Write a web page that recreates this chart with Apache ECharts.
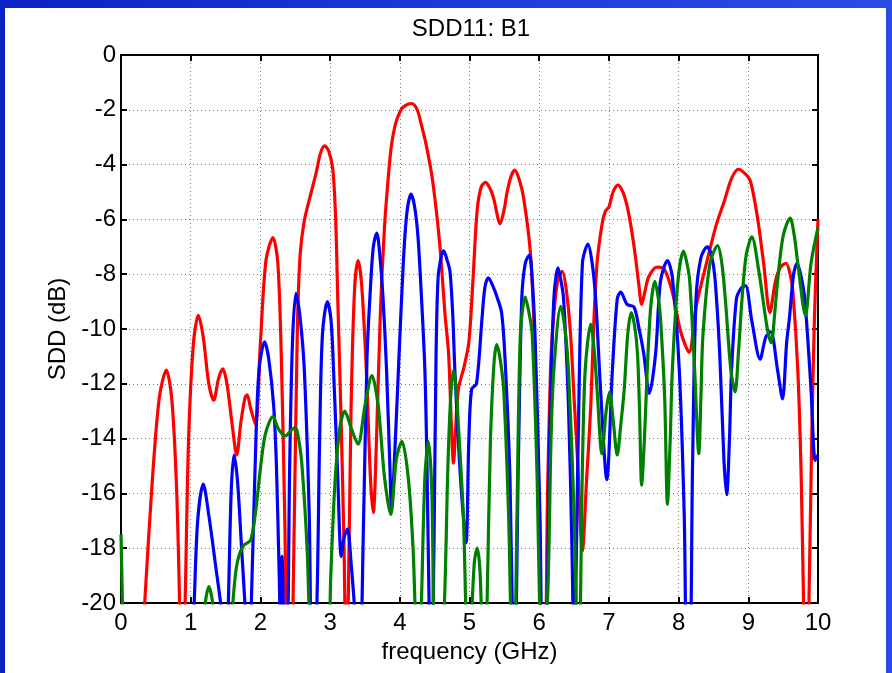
<!DOCTYPE html>
<html>
<head>
<meta charset="utf-8">
<script src="https://cdn.jsdelivr.net/npm/echarts@6/dist/echarts.min.js"></script>
<style>
  html, body { margin: 0; padding: 0; }
  body { width: 892px; height: 673px; position: relative; overflow: hidden;
    background: linear-gradient(90deg, #0c22c4 0%, #1c3ad8 50%, #2a4ce4 100%); }
  #frame { position: absolute; left: 5px; top: 8px; width: 881px; height: 665px; background: #fff; }
  #chart { position: absolute; left: 0; top: 0; width: 892px; height: 673px; }
</style>
</head>
<body>
<div id="frame"></div>
<div id="chart"></div>
<script>
// frequency (GHz) / SDD (dB); values under -20 are clipped dips
const redFreq = [0.25, 0.34, 0.45, 0.55, 0.65, 0.73, 0.8, 0.85, 0.88, 0.92, 0.97, 1.04, 1.11, 1.18, 1.26, 1.33, 1.4, 1.46, 1.52, 1.6, 1.66, 1.72, 1.78, 1.81, 1.86, 1.93, 2.0, 2.08, 2.18, 2.25, 2.3, 2.35, 2.38, 2.43, 2.48, 2.53, 2.57, 2.63, 2.73, 2.8, 2.86, 2.92, 2.98, 3.04, 3.08, 3.11, 3.16, 3.2, 3.23, 3.26, 3.3, 3.35, 3.4, 3.45, 3.52, 3.58, 3.62, 3.66, 3.72, 3.78, 3.84, 3.88, 3.93, 3.98, 4.05, 4.17, 4.25, 4.31, 4.38, 4.46, 4.52, 4.58, 4.65, 4.7, 4.74, 4.77, 4.8, 4.84, 4.92, 4.99, 5.05, 5.11, 5.17, 5.23, 5.3, 5.35, 5.44, 5.5, 5.54, 5.6, 5.65, 5.72, 5.78, 5.87, 5.92, 5.96, 6.0, 6.04, 6.08, 6.12, 6.17, 6.23, 6.28, 6.33, 6.39, 6.45, 6.5, 6.55, 6.62, 6.68, 6.74, 6.78, 6.83, 6.9, 6.95, 7.0, 7.06, 7.13, 7.2, 7.26, 7.32, 7.38, 7.43, 7.47, 7.52, 7.57, 7.69, 7.79, 7.91, 8.03, 8.15, 8.25, 8.4, 8.54, 8.66, 8.76, 8.86, 8.96, 9.03, 9.13, 9.22, 9.31, 9.39, 9.46, 9.54, 9.6, 9.64, 9.71, 9.76, 9.8, 9.83, 9.87, 9.91, 9.95, 10.0]
const redSdd = [-24, -20, -15.5, -12.5, -11.5, -12.6, -16, -21, -24, -20, -14, -10.5, -9.5, -10.3, -12, -12.6, -11.8, -11.45, -12.0, -13.6, -14.6, -13.4, -12.5, -12.4, -12.9, -13.5, -10.5, -7.5, -6.66, -7.6, -11, -17, -22, -24, -18, -10, -7.3, -6.05, -5.0, -4.3, -3.6, -3.32, -3.5, -4.2, -6, -8.9, -13.5, -18, -22, -20, -13, -8.6, -7.5, -8.3, -11.5, -15.5, -16.7, -14.5, -9.5, -6.3, -4.3, -3.3, -2.6, -2.2, -1.9, -1.77, -2.0, -2.55, -3.3, -4.4, -5.6, -7.1, -9.5, -10.9, -13.5, -14.9, -13.7, -12.2, -11.4, -10.5, -8.2, -5.66, -4.8, -4.65, -4.9, -5.27, -6.16, -5.6, -5.0, -4.4, -4.2, -4.6, -5.27, -7.1, -9.5, -12.8, -17, -22, -22, -16, -11, -8.9, -8.1, -7.9, -8.6, -10.2, -12.5, -14.75, -18.1, -15.5, -12.8, -10, -7.6, -6.2, -5.7, -5.55, -5.0, -4.75, -5.0, -5.5, -6.3, -7.35, -8.4, -9.1, -8.6, -8.1, -7.74, -7.8, -8.65, -10.1, -10.85, -9.2, -7.6, -6.2, -5.3, -4.5, -4.17, -4.35, -4.6, -5.9, -7.6, -9.4, -8.25, -7.75, -7.6, -8.0, -8.65, -11.5, -15.5, -21, -24, -20, -14, -9.5, -6.0]

const blueFreq = [1.0, 1.05, 1.1, 1.18, 1.26, 1.35, 1.45, 1.5, 1.54, 1.58, 1.62, 1.67, 1.73, 1.8, 1.83, 1.87, 1.93, 1.98, 2.06, 2.12, 2.19, 2.23, 2.27, 2.29, 2.31, 2.34, 2.38, 2.42, 2.46, 2.51, 2.57, 2.63, 2.7, 2.74, 2.8, 2.85, 2.89, 2.96, 3.01, 3.04, 3.11, 3.16, 3.2, 3.25, 3.3, 3.36, 3.42, 3.48, 3.53, 3.57, 3.62, 3.67, 3.71, 3.76, 3.81, 3.86, 3.88, 3.91, 3.98, 4.05, 4.1, 4.16, 4.21, 4.26, 4.31, 4.36, 4.39, 4.42, 4.45, 4.49, 4.52, 4.55, 4.6, 4.63, 4.68, 4.72, 4.76, 4.79, 4.87, 4.95, 4.99, 5.03, 5.1, 5.18, 5.22, 5.27, 5.33, 5.39, 5.46, 5.51, 5.58, 5.62, 5.65, 5.7, 5.75, 5.8, 5.86, 5.9, 5.94, 6.01, 6.05, 6.09, 6.15, 6.21, 6.27, 6.31, 6.35, 6.42, 6.47, 6.5, 6.56, 6.62, 6.7, 6.76, 6.81, 6.88, 6.97, 7.05, 7.12, 7.17, 7.26, 7.36, 7.43, 7.5, 7.58, 7.67, 7.74, 7.84, 7.91, 8.01, 8.08, 8.12, 8.16, 8.2, 8.25, 8.32, 8.41, 8.47, 8.52, 8.59, 8.65, 8.69, 8.73, 8.76, 8.83, 8.9, 8.96, 9.05, 9.17, 9.25, 9.32, 9.42, 9.49, 9.55, 9.59, 9.65, 9.7, 9.75, 9.81, 9.9, 9.96, 10.0]
const blueSdd = [-23, -20, -17, -15.66, -16.8, -18.5, -20.5, -23, -20, -16, -14.6, -15.5, -18, -21, -23, -20, -14.5, -11.5, -10.47, -11.1, -12.8, -15, -19, -21, -18.3, -21, -22, -15, -10.5, -8.7, -9.6, -11.5, -16.7, -22, -21, -14, -10.2, -9.0, -9.6, -10.9, -15.4, -18.3, -17.6, -17.3, -18.5, -20.5, -23, -17, -11, -8.9, -7.0, -6.5, -7.2, -8.9, -11.5, -15.2, -16.5, -15.5, -11.5, -7.6, -5.8, -5.08, -5.5, -6.6, -8.8, -11.5, -15, -20, -24, -18, -11, -8.1, -7.3, -7.15, -7.5, -7.9, -9.5, -11.5, -15.4, -17.8, -14.1, -12.2, -12.0, -9.6, -8.5, -8.13, -8.4, -8.8, -9.4, -11.1, -15.4, -21, -22, -15, -8.9, -7.6, -7.3, -8.2, -10.2, -16.7, -22, -22, -14, -8.9, -7.77, -8.2, -8.9, -12.8, -18, -22, -14, -7.6, -6.9, -7.6, -8.9, -12.2, -15.5, -11.5, -8.9, -8.65, -9.1, -9.2, -9.95, -10.9, -12.35, -10.9, -8.26, -7.5, -8.1, -11.5, -16.7, -22, -22, -15, -8.9, -7.4, -7.0, -7.3, -8.1, -10.9, -14.75, -16.05, -14, -11.5, -8.9, -8.5, -8.42, -9.7, -11.1, -10.3, -10.1, -11.5, -12.55, -10.5, -9.6, -8.0, -7.6, -8.0, -8.9, -12.2, -14.8, -14.6]

const greenFreq = [0.0, 0.04, 0.1, 0.6, 1.15, 1.2, 1.26, 1.32, 1.38, 1.5, 1.59, 1.64, 1.69, 1.76, 1.86, 1.93, 2.0, 2.07, 2.18, 2.26, 2.36, 2.44, 2.5, 2.56, 2.6, 2.67, 2.71, 2.8, 2.96, 3.01, 3.07, 3.14, 3.21, 3.3, 3.4, 3.5, 3.6, 3.69, 3.78, 3.87, 3.95, 4.03, 4.12, 4.19, 4.23, 4.27, 4.31, 4.36, 4.41, 4.46, 4.49, 4.55, 4.64, 4.69, 4.73, 4.77, 4.81, 4.84, 4.91, 4.95, 4.98, 5.03, 5.07, 5.11, 5.15, 5.18, 5.22, 5.26, 5.3, 5.35, 5.39, 5.44, 5.49, 5.56, 5.6, 5.64, 5.68, 5.73, 5.8, 5.86, 5.9, 5.97, 6.01, 6.06, 6.13, 6.17, 6.21, 6.31, 6.37, 6.42, 6.5, 6.54, 6.57, 6.62, 6.66, 6.74, 6.79, 6.83, 6.9, 6.96, 7.01, 7.06, 7.12, 7.17, 7.22, 7.27, 7.32, 7.37, 7.41, 7.44, 7.47, 7.51, 7.55, 7.6, 7.66, 7.71, 7.74, 7.8, 7.84, 7.88, 7.91, 7.99, 8.07, 8.12, 8.16, 8.23, 8.29, 8.32, 8.35, 8.45, 8.56, 8.62, 8.67, 8.75, 8.81, 8.86, 8.91, 8.97, 9.05, 9.15, 9.27, 9.33, 9.38, 9.42, 9.5, 9.6, 9.66, 9.71, 9.82, 9.9, 10.0]
const greenSdd = [-17.5, -22, -26, -26, -22, -20.2, -19.4, -20.1, -22, -24, -20.5, -19, -18.3, -17.9, -17.7, -16.7, -15.1, -13.85, -13.2, -13.65, -13.9, -13.7, -13.6, -14.2, -15.1, -18, -21, -25, -23, -19, -15.6, -13.6, -13.0, -13.6, -14.2, -12.8, -11.7, -12.8, -15.4, -16.77, -14.75, -14.1, -15.4, -18, -21, -23, -20, -15.4, -14.1, -16, -21, -24, -20, -15, -12.5, -11.5, -12.2, -13.5, -16.7, -20.5, -23, -20.5, -18.5, -18.0, -18.8, -21, -23, -19, -14.1, -11.3, -10.57, -11.1, -12.2, -16.7, -21, -22, -17, -10.2, -8.84, -9.5, -10.2, -15.4, -20.5, -23, -19, -14, -11.5, -9.17, -10, -11.5, -16.7, -21, -22, -15, -11.5, -9.82, -10.8, -12.2, -14.55, -13, -12.3, -13.3, -14.6, -13.5, -12.2, -10.2, -9.4, -9.9, -10.9, -13, -15.7, -14, -11.5, -9.2, -8.26, -8.9, -9.6, -12.5, -16.4, -14, -11.5, -8.26, -7.16, -7.6, -8.26, -11.5, -14.55, -12.5, -10.2, -7.6, -6.96, -7.6, -8.9, -11.5, -12.3, -10.8, -8.9, -7.3, -6.64, -7.87, -9.95, -10.5, -9.4, -8.26, -6.6, -5.95, -6.6, -7.6, -9.5, -7.6, -6.3]

const pair = (xs, ys) => xs.map((x, i) => [x, ys[i]])

const font = "'Liberation Sans', Arial, sans-serif"

const chart = echarts.init(document.getElementById('chart'), null, { renderer: 'canvas' })

const axisCommon = {
  type: 'value',
  axisLine: { show: true, onZero: false, lineStyle: { color: '#000', width: 2 } },
  axisTick: { show: true, inside: true, length: 6, lineStyle: { color: '#000', width: 2 } },
  splitLine: { show: false },
  axisLabel: { show: false }
}

const option = {
  animation: false,
  title: {
    text: 'SDD11: B1',
    left: 466,
    top: 12,
    textAlign: 'center',
    textStyle: { fontFamily: font, fontWeight: 'normal', fontSize: 24, color: '#000' }
  },
  grid: { left: 121, top: 55, right: 74, bottom: 70, containLabel: false },
  xAxis: [
    Object.assign({}, axisCommon, {
      position: 'bottom', min: 0, max: 10, interval: 1,
      name: 'frequency (GHz)', nameLocation: 'middle', nameGap: 36,
      nameTextStyle: { fontFamily: font, fontSize: 24, color: '#000' },
      axisLabel: { show: true, margin: 8, fontFamily: font, fontSize: 24, color: '#000' },
      splitLine: { show: true, lineStyle: { color: '#7a7a7a', type: [1, 3], width: 1 } }
    }),
    Object.assign({}, axisCommon, { position: 'top', min: 0, max: 10, interval: 1 })
  ],
  yAxis: [
    Object.assign({}, axisCommon, {
      position: 'left', min: -20, max: 0, interval: 2,
      name: 'SDD (dB)', nameLocation: 'middle', nameGap: 48, nameRotate: 90,
      nameTextStyle: { fontFamily: font, fontSize: 24, color: '#000' },
      axisLabel: { show: true, margin: 5, fontFamily: font, fontSize: 24, color: '#000' },
      splitLine: { show: true, lineStyle: { color: '#7a7a7a', type: [1, 3], width: 1 } }
    }),
    Object.assign({}, axisCommon, { position: 'right', min: -20, max: 0, interval: 2 })
  ],
  series: [
    { name: 'red', type: 'line', data: pair(redFreq, redSdd) },
    { name: 'blue', type: 'line', data: pair(blueFreq, blueSdd) },
    { name: 'green', type: 'line', data: pair(greenFreq, greenSdd) }
  ].map((s, i) => Object.assign(s, {
    showSymbol: false,
    smooth: 0.3,
    clip: true,
    lineStyle: { width: 3.2, color: ['#ff0000', '#0000ff', '#008000'][i] }
  }))
}

chart.setOption(option)
</script>
</body>
</html>
